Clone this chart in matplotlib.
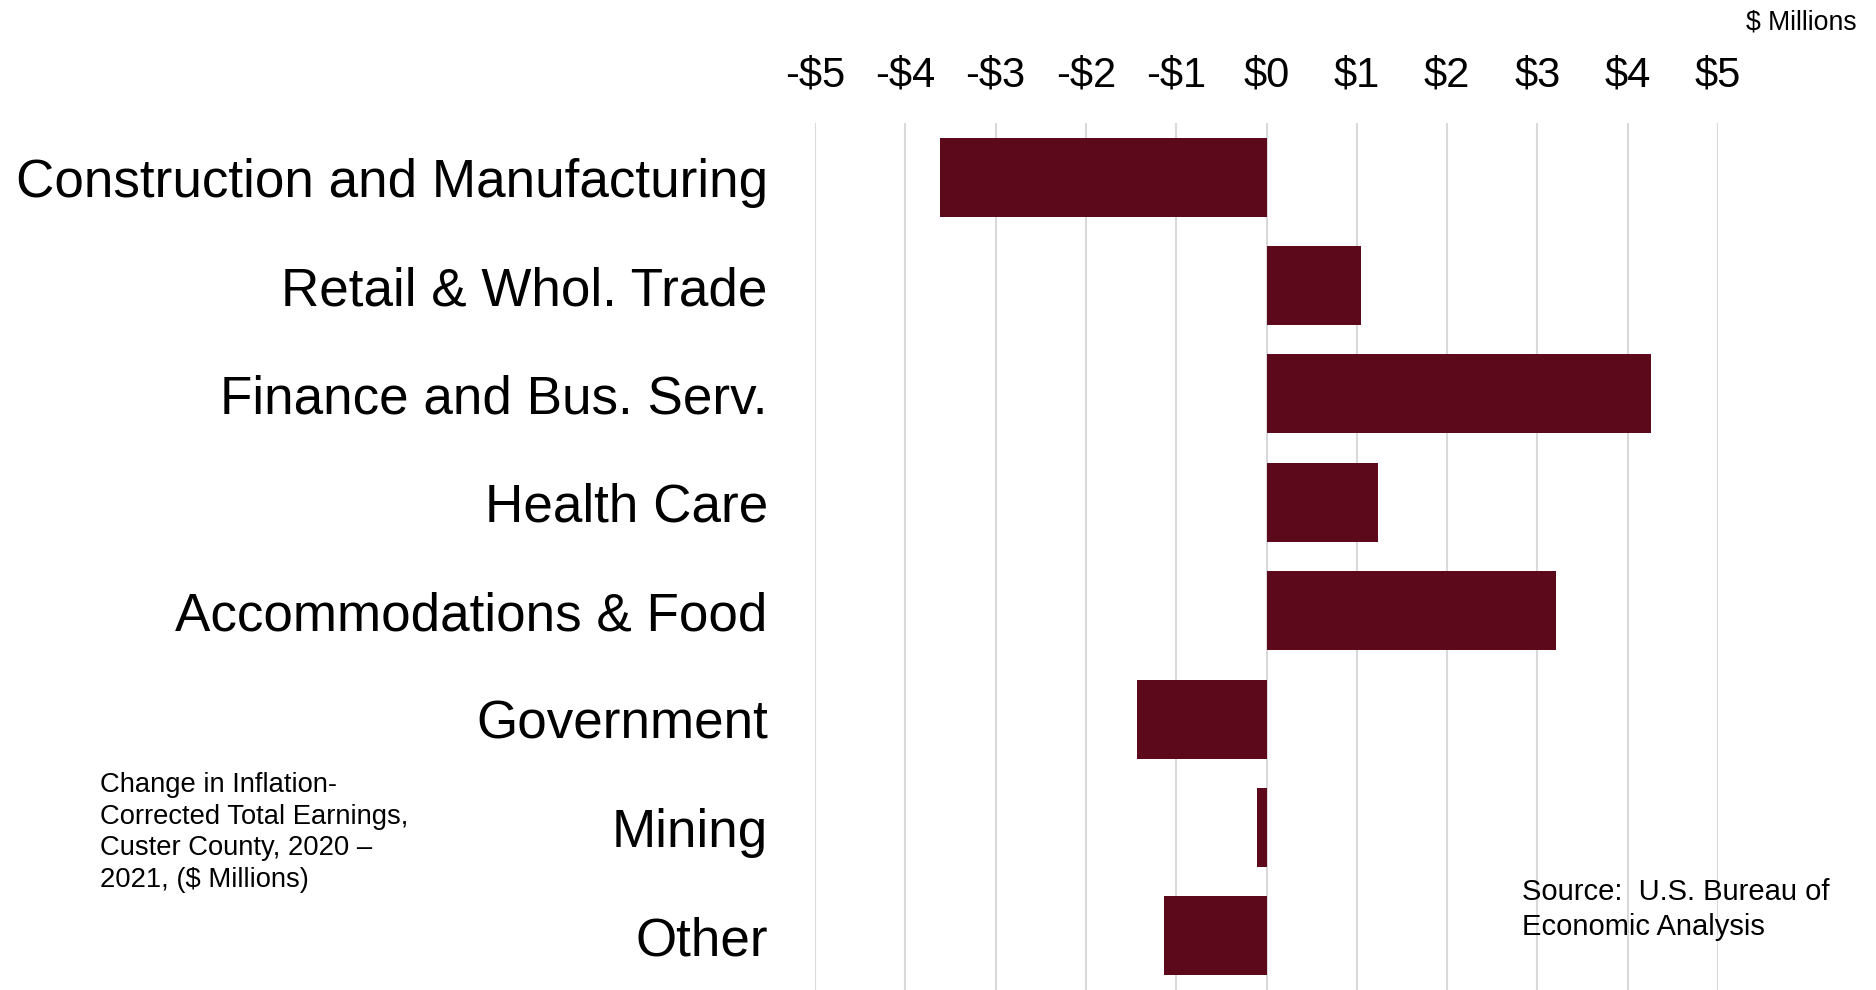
import matplotlib
matplotlib.use("Agg")
import matplotlib.pyplot as plt

plt.rcParams['font.family'] = ['Liberation Sans', 'DejaVu Sans']

categories = ["Construction and Manufacturing", "Retail & Whol. Trade",
              "Finance and Bus. Serv.", "Health Care", "Accommodations & Food",
              "Government", "Mining", "Other"]
values = [-3.62, 1.05, 4.26, 1.24, 3.21, -1.43, -0.10, -1.13]
ticks = [-5, -4, -3, -2, -1, 0, 1, 2, 3, 4, 5]
tick_labels = ["-$5", "-$4", "-$3", "-$2", "-$1", "$0", "$1", "$2", "$3", "$4", "$5"]

W, H = 1876, 990
fig = plt.figure(figsize=(W / 100, H / 100), dpi=100)
ax = fig.add_axes([815 / W, 0.0, (1718 - 815) / W, 1 - 123 / H])

bar_color = "#5C0A1B"
ax.barh(range(len(categories)), values, height=0.73, color=bar_color, zorder=3)

ax.set_xlim(-5, 5)
ax.set_ylim(len(categories) - 0.5, -0.5)
ax.set_xticks(ticks)
ax.set_xticklabels(tick_labels, fontsize=30)
ax.xaxis.tick_top()
ax.tick_params(axis='x', length=0, pad=20)
ax.set_yticks(range(len(categories)))
ax.set_yticklabels(categories, fontsize=38.2)
ax.tick_params(axis='y', length=0, pad=34)
ax.grid(axis='x', color="#D9D9D9", linewidth=1.5, zorder=0)
for s in ax.spines.values():
    s.set_visible(False)

fig.text(1857 / W, 1 - 22 / H, "$ Millions", ha='right', va='center', fontsize=19.2)
fig.text(100 / W, 1 - 772 / H,
         "Change in Inflation-\nCorrected Total Earnings,\nCuster County, 2020 \u2013\n2021, ($ Millions)",
         ha='left', va='top', fontsize=19.7, linespacing=1.28)
fig.text(1522 / W, 1 - 878 / H, "Source:  U.S. Bureau of\nEconomic Analysis",
         ha='left', va='top', fontsize=21, linespacing=1.33)

fig.savefig("out.png", dpi=100, facecolor="white")
